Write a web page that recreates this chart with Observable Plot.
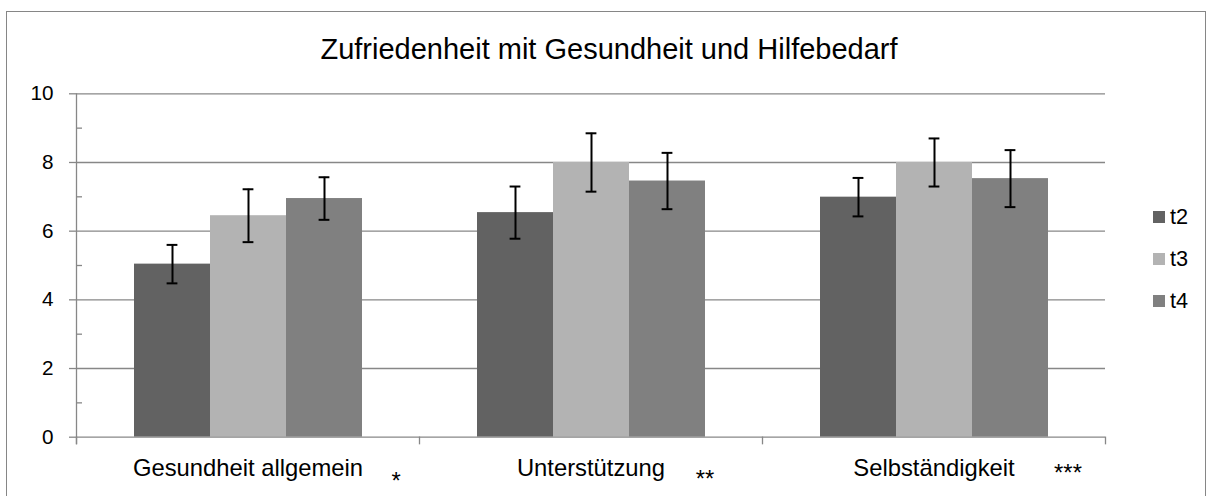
<!DOCTYPE html>
<html>
<head>
<meta charset="utf-8">
<script src="https://cdn.jsdelivr.net/npm/d3@7"></script>
<script src="https://cdn.jsdelivr.net/npm/@observablehq/plot@0.6"></script>
<style>
  body { margin: 0; background: #fff; font-family: "Liberation Sans", Arial, sans-serif; }
  #chart { position: relative; width: 1212px; height: 496px; overflow: hidden; background: #fff; }
  #chart svg { position: absolute; left: 0; top: 0; max-width: none; background: transparent; }
  #border { position: absolute; left: 6px; top: 11px; width: 1200px; height: 700px;
            border: 1.5px solid #868686; box-sizing: border-box; pointer-events: none; }
  #title { position: absolute; left: 0; top: 35.4px; width: 1218px; text-align: center;
           font-size: 29px; line-height: 29px; color: #000; }
  #legend { position: absolute; left: 1153px; top: 196px; }
  #legend .item { height: 42px; display: flex; align-items: center; font-size: 21.7px; color: #000; }
  #legend .sw { width: 12px; height: 12px; margin-right: 5px; }
</style>
</head>
<body>
<div id="chart">
  <div id="title">Zufriedenheit mit Gesundheit und Hilfebedarf</div>
  <div id="legend"></div>
  <div id="border"></div>
</div>
<script>
// Outcome domains and measurement points
const categories = ["Gesundheit allgemein", "Unterstützung", "Selbständigkeit"];
const series = ["t2", "t3", "t4"];

// Mean scores per measurement point (one value per category)
const t2Means = [5.04, 6.54, 6.99];
const t3Means = [6.45, 8.00, 8.00];
const t4Means = [6.95, 7.46, 7.53];

// Error bar half-widths
const t2Errors = [0.56, 0.76, 0.56];
const t3Errors = [0.77, 0.85, 0.70];
const t4Errors = [0.62, 0.82, 0.83];

// Significance markers per category
const significance = ["*", "**", "***"];

// Axis ticks
const yTicks = [0, 2, 4, 6, 8, 10];
const yMinorTicks = [1, 3, 5, 7, 9];

const seriesColors = ["#626262", "#b3b3b3", "#808080"];
const gridColor = "#878787";

const means = [t2Means, t3Means, t4Means];
const errors = [t2Errors, t3Errors, t4Errors];
const rows = [];
categories.forEach((c, i) => {
  series.forEach((s, j) => {
    rows.push({category: c, series: s, value: means[j][i], err: errors[j][i]});
  });
});

const sigRows = categories.map((c, i) => ({category: c, mark: significance[i]}));
// horizontal / vertical placement of each marker relative to the category band
const sigOffsets = [{dx: 148, dy: 52}, {dx: 114, dy: 50}, {dx: 134, dy: 44}];

const frameH = 496 - 93.3 - 59.3;

const chart = Plot.plot({
  width: 1212,
  height: 496,
  marginTop: 93.3,
  marginBottom: 59.3,
  marginLeft: 76,
  marginRight: 107,
  style: {fontFamily: "'Liberation Sans', Arial, sans-serif", fontSize: "20px", color: "#000", background: "transparent"},
  fx: {domain: categories, padding: 0, label: null},
  x: {domain: series, paddingInner: 0, paddingOuter: 0.75, axis: null},
  y: {domain: [0, 10], label: null},
  color: {domain: series, range: seriesColors},
  marks: [
    Plot.gridY(yTicks.filter(v => v > 0), {stroke: gridColor, strokeOpacity: 1, strokeWidth: 1.3}),
    Plot.barY(rows, {fx: "category", x: "series", y: "value", fill: "series"}),
    Plot.ruleY([0], {stroke: gridColor, strokeWidth: 1.3}),
    // vertical axis line on the left edge, plus category boundary ticks below the baseline
    Plot.frame({anchor: "left", facetAnchor: "left", stroke: gridColor, strokeWidth: 1.3, insetBottom: -6.5}),
    Plot.frame({anchor: "left", stroke: gridColor, strokeWidth: 1.3, insetTop: frameH, insetBottom: -6.5}),
    Plot.frame({anchor: "right", facetAnchor: "right", stroke: gridColor, strokeWidth: 1.3, insetTop: frameH, insetBottom: -6.5}),
    Plot.axisY({ticks: yTicks, tickSize: 7, tickPadding: 16, fontSize: 20.7, stroke: gridColor, strokeWidth: 1.3, label: null}),
    Plot.axisY({ticks: yMinorTicks, tickSize: 6, dx: 6, fill: "none", stroke: gridColor, strokeWidth: 1.3, label: null}),
    Plot.axisFx({anchor: "bottom", tickSize: 0, tickPadding: 22, fontSize: 23.8, label: null}),
    // error bars
    Plot.ruleX(rows, {fx: "category", x: "series", y1: d => d.value - d.err, y2: d => d.value + d.err, stroke: "#000", strokeWidth: 2}),
    Plot.tickY(rows, {fx: "category", x: "series", y: d => d.value + d.err, stroke: "#000", strokeWidth: 2, insetLeft: 32.6, insetRight: 32.6}),
    Plot.tickY(rows, {fx: "category", x: "series", y: d => d.value - d.err, stroke: "#000", strokeWidth: 2, insetLeft: 32.6, insetRight: 32.6}),
    // significance markers
    ...sigRows.map((r, i) => Plot.text([r], {
      fx: "category", text: "mark", frameAnchor: "bottom", lineAnchor: "bottom",
      dx: sigOffsets[i].dx, dy: sigOffsets[i].dy, fontSize: 23.8, fill: "#000"
    }))
  ]
});

document.getElementById("chart").prepend(chart);

// legend
const legend = document.getElementById("legend");
series.forEach((s, i) => {
  const item = document.createElement("div");
  item.className = "item";
  const sw = document.createElement("span");
  sw.className = "sw";
  sw.style.background = seriesColors[i];
  const label = document.createElement("span");
  label.textContent = s;
  item.append(sw, label);
  legend.append(item);
});
</script>
</body>
</html>
